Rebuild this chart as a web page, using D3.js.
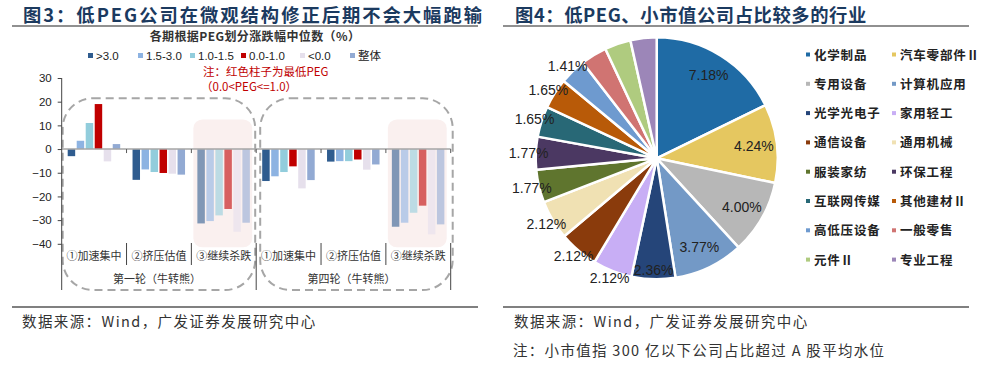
<!DOCTYPE html>
<html>
<head>
<meta charset="utf-8">
<script src="https://cdn.jsdelivr.net/npm/d3@7"></script>
<style>
body { margin: 0; background: #fff; }
svg { display: block; }
.cn { font-family: "Noto Sans CJK SC", sans-serif; }
.num { font-family: "Liberation Sans", Arial, sans-serif; }
</style>
</head>
<body>
<script>
// ---- left chart data (median change by PEG bucket, %) ----
const categories = ["①加速集中", "②挤压估值", "③继续杀跌", "①加速集中", "②挤压估值", "③继续杀跌"];
const rounds = ["第一轮（牛转熊）", "第四轮（牛转熊）"];
const seriesNames = [">3.0", "1.5-3.0", "1.0-1.5", "0.0-1.0", "<0.0", "整体"];
const pegAbove3 = [-3.0, -13.0, -31.4, -13.5, -5.3, -32.8];
const peg15to3 = [3.5, -8.6, -30.4, -11.5, -5.1, -31.1];
const peg1to15 = [11.0, -9.7, -28.0, -9.7, -5.1, -26.9];
const peg0to1 = [19.0, -10.1, -25.3, -7.3, -4.4, -23.9];
const pegBelow0 = [-5.2, -10.4, -34.9, -16.6, -8.7, -36.0];
const overall = [2.1, -10.8, -31.1, -13.1, -6.5, -31.8];
const yTicks = [30, 20, 10, 0, -10, -20, -30, -40];
const highlightCats = [2, 5];

// ---- right chart data (share of industry, %) ----
const industries = ["化学制品", "汽车零部件Ⅱ", "专用设备", "计算机应用", "光学光电子", "家用轻工",
  "通信设备", "通用机械", "服装家纺", "环保工程", "互联网传媒", "其他建材Ⅱ",
  "高低压设备", "一般零售", "元件Ⅱ", "专业工程"];
const shares = [7.18, 4.24, 4.00, 3.77, 2.36, 2.12, 2.12, 2.12, 1.77, 1.77, 1.65, 1.65, 1.41, 1.41, 1.41, 1.41];
const labelledCount = 13;

const barColors = ["#2F5C8F", "#8DB3E2", "#92CDDC", "#C00000", "#E6E0EC", "#92AAD3"];
const pieColors = ["#1F6BA5", "#E5C760", "#B7B7B7", "#7399C6", "#254579", "#C8AEF5",
  "#8A3B0C", "#F0E1B3", "#5F752E", "#4B3862", "#286876", "#B85A08",
  "#6E9ACF", "#D07472", "#AFCB7F", "#9C86B8"];
const titleColor = "#1B3A5F";

const seriesValues = [pegAbove3, peg15to3, peg1to15, peg0to1, pegBelow0, overall];

const svg = d3.select("body").append("svg").attr("width", 983).attr("height", 368);

// ---- headers and footers ----
function panelFrame(x0, x1, title, tx, ls) {
  svg.append("text").attr("class", "cn").attr("x", tx).attr("y", 21.5)
    .attr("font-size", 18.3).attr("font-weight", "bold").attr("letter-spacing", ls)
    .attr("fill", titleColor).text(title);
  svg.append("line").attr("x1", x0).attr("x2", x1).attr("y1", 26).attr("y2", 26)
    .attr("stroke", "#222").attr("stroke-width", 1.2);
  svg.append("line").attr("x1", x0).attr("x2", x1).attr("y1", 307).attr("y2", 307)
    .attr("stroke", "#808080").attr("stroke-width", 2);
  svg.append("text").attr("class", "cn").attr("x", tx - 1).attr("y", 327)
    .attr("font-size", 14.5).attr("letter-spacing", 1.4).attr("fill", "#333")
    .text("数据来源：Wind，广发证券发展研究中心");
}
panelFrame(12, 478, "图3：低PEG公司在微观结构修正后期不会大幅跑输", 23, 2);
panelFrame(503, 969, "图4：低PEG、小市值公司占比较多的行业", 515, 0.6);
svg.append("text").attr("class", "cn").attr("x", 513).attr("y", 356)
  .attr("font-size", 14.5).attr("letter-spacing", 1.3).attr("fill", "#333")
  .text("注：小市值指 300 亿以下公司占比超过 A 股平均水位");

// ---- left: grouped bars ----
const x = d3.scaleBand().domain(d3.range(categories.length)).range([61.7, 450.7]);
const xs = d3.scaleBand().domain(d3.range(seriesNames.length)).range([6, 58.5]).paddingInner(0.17);
const y = d3.scaleLinear().domain([-40, 30]).range([243.8, 78]);
const axisBottom = 290;

svg.append("text").attr("class", "cn").attr("x", 255).attr("y", 41)
  .attr("text-anchor", "middle").attr("font-size", 12).attr("font-weight", "bold")
  .attr("letter-spacing", 0.4).attr("fill", "#333").text("各期根据PEG划分涨跌幅中位数（%）");

const legend = svg.append("g").selectAll("g").data(seriesNames).join("g")
  .attr("transform", (d, i) => `translate(${[88, 138, 190, 241, 300, 350][i]},56)`);
legend.append("rect").attr("x", 0).attr("y", -3).attr("width", 5).attr("height", 5)
  .attr("fill", (d, i) => barColors[i]);
legend.append("text").attr("class", (d, i) => i === 5 ? "cn" : "num").attr("x", 8).attr("y", 4)
  .attr("font-size", 11.5).attr("fill", "#222").text(d => d);

svg.append("text").attr("class", "cn").attr("x", 203).attr("y", 76)
  .attr("font-size", 11.5).attr("fill", "#C00000").text("注：红色柱子为最低PEG");
svg.append("text").attr("class", "cn").attr("x", 201).attr("y", 91)
  .attr("font-size", 11.5).attr("fill", "#C00000").text("（0.0<PEG<=1.0）");

// dashed round boxes
rounds.forEach((r, k) => {
  const xa = x(k * 3) + (k ? 4 : 1);
  const xb = x(k * 3 + 2) + x.bandwidth() + (k ? 2 : -1);
  svg.append("rect").attr("x", xa).attr("y", y(21) - 1).attr("width", xb - xa)
    .attr("height", axisBottom - y(21) + 1).attr("rx", 30)
    .attr("fill", "none").attr("stroke", "#A6A6A6").attr("stroke-width", 2)
    .attr("stroke-dasharray", "8,5");
});

// highlight panels
svg.append("g").selectAll("rect").data(highlightCats).join("rect")
  .attr("x", d => x(d) + 2).attr("width", x.bandwidth() - 6)
  .attr("y", y(12.5)).attr("height", y(-41.5) - y(12.5)).attr("rx", 9)
  .attr("fill", "#FAF0EF");

// bars
const catG = svg.append("g").selectAll("g").data(categories).join("g")
  .attr("transform", (d, i) => `translate(${x(i)},0)`);
catG.selectAll("rect")
  .data((d, ci) => seriesValues.map((vals, si) => ({ v: vals[ci], si, ci })))
  .join("rect")
  .attr("x", d => xs(d.si)).attr("width", xs.bandwidth())
  .attr("y", d => y(Math.max(0, d.v))).attr("height", d => Math.abs(y(d.v) - y(0)))
  .attr("fill", d => barColors[d.si])
  .attr("opacity", d => highlightCats.includes(d.ci) ? 0.6 : 1);

// zero line and small ticks
svg.append("line").attr("x1", x(0)).attr("x2", x.range()[1]).attr("y1", y(0)).attr("y2", y(0))
  .attr("stroke", "#A6A6A6").attr("stroke-width", 1.5);
svg.append("g").selectAll("line").data(d3.range(1, categories.length + 1)).join("line")
  .attr("x1", d => x.range()[0] + d * x.bandwidth()).attr("x2", d => x.range()[0] + d * x.bandwidth())
  .attr("y1", y(0)).attr("y2", y(0) + 4).attr("stroke", "#595959");

// y axis
const yAxis = svg.append("g").attr("class", "num").attr("transform", `translate(${x(0)},0)`)
  .call(d3.axisLeft(y).tickValues(yTicks).tickSize(4).tickPadding(6));
yAxis.select(".domain").remove();
yAxis.selectAll("line").attr("stroke", "#444");
yAxis.selectAll("text").attr("font-size", 11.5).attr("fill", "#222")
  .attr("font-family", "'Liberation Sans', Arial, sans-serif");
svg.append("line").attr("x1", x(0)).attr("x2", x(0)).attr("y1", y(30)).attr("y2", axisBottom)
  .attr("stroke", "#444");

// category separators and labels
svg.append("g").selectAll("line").data(d3.range(1, categories.length + 1)).join("line")
  .attr("x1", d => x.range()[0] + d * x.bandwidth()).attr("x2", d => x.range()[0] + d * x.bandwidth())
  .attr("y1", 243).attr("y2", d => d % 3 === 0 ? axisBottom : 265)
  .attr("stroke", "#444");
svg.append("g").selectAll("text").data(categories).join("text")
  .attr("class", "cn").attr("x", (d, i) => x(i) + x.bandwidth() / 2).attr("y", 260)
  .attr("text-anchor", "middle").attr("font-size", 11).attr("fill", "#333").text(d => d);
svg.append("g").selectAll("text").data(rounds).join("text")
  .attr("class", "cn").attr("x", (d, k) => x(k * 3) + x.bandwidth() * 1.5 - 2).attr("y", 283)
  .attr("text-anchor", "middle").attr("font-size", 11).attr("fill", "#333").text(d => d);

// ---- right: pie ----
const cx = 656.7, cy = 158.3, R = 121;
const pie = d3.pie().sort(null).value(d => d)(shares);
const arc = d3.arc().innerRadius(0).outerRadius(R);
const pg = svg.append("g").attr("transform", `translate(${cx},${cy})`);
pg.selectAll("path").data(pie).join("path")
  .attr("d", arc).attr("fill", (d, i) => pieColors[i])
  .attr("stroke", "#fff").attr("stroke-width", 2.5).attr("stroke-linejoin", "round");
pg.selectAll("text").data(pie.slice(0, labelledCount)).join("text")
  .attr("class", "num")
  .attr("transform", d => {
    const r = R * (d.data >= 3 ? 0.81 : d.data > 2.2 ? 0.92 : 1.06);
    const c = d3.arc().innerRadius(r).outerRadius(r).centroid(d);
    return `translate(${c[0]},${c[1] + 5})`;
  })
  .attr("text-anchor", "middle").attr("font-size", 14).attr("fill", "#222")
  .text(d => d.data.toFixed(2) + "%");

// pie legend
const lg = svg.append("g").selectAll("g").data(industries).join("g")
  .attr("transform", (d, i) => `translate(${i % 2 ? 892 : 806},${55 + Math.floor(i / 2) * 29.3})`);
lg.append("rect").attr("x", 0).attr("y", -2.5).attr("width", 4).attr("height", 4)
  .attr("fill", (d, i) => pieColors[i]);
lg.append("text").attr("class", "cn").attr("x", 8).attr("y", 4.5)
  .attr("font-size", 12.5).attr("font-weight", "bold").attr("letter-spacing", 0.8)
  .attr("fill", "#222").text(d => d);
</script>
</body>
</html>
